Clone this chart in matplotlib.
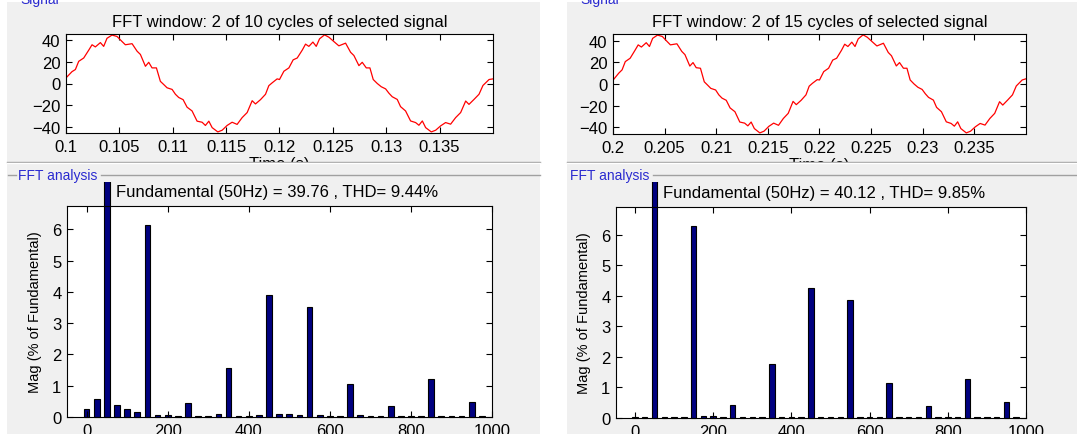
import matplotlib
matplotlib.use("Agg")
import matplotlib.pyplot as plt
import numpy as np
from matplotlib.patches import Rectangle
from matplotlib.lines import Line2D
from matplotlib.transforms import Bbox, TransformedBbox

plt.rcParams['font.family'] = ['Liberation Sans', 'DejaVu Sans']

# signal inside the FFT window: time offset (ms) and value
sig_ms = [0.0, 0.56, 0.88, 1.19, 1.66, 2.13, 2.44, 2.75, 3.22, 3.53, 3.84, 4.31, 4.78, 5.25,
          5.56, 6.19, 6.66, 6.97, 7.44, 7.75, 8.06, 8.47, 8.84, 9.16, 9.47, 9.94, 10.25, 10.56,
          10.97, 11.34, 11.81, 12.28, 12.75, 13.06, 13.38, 13.69, 14.22, 14.63, 15.09, 15.56,
          16.03, 16.5, 16.97, 17.44, 17.75, 18.22, 18.69, 19.0, 19.31, 19.78,
          20.0, 20.41, 20.88, 21.28, 21.66, 22.13, 22.44, 22.75, 23.13, 23.44, 23.75, 24.22,
          24.63, 25.09, 25.56, 26.19, 26.66, 26.97, 27.44, 27.75, 28.13, 28.47, 28.78, 29.16,
          29.53, 29.94, 30.25, 30.56, 31.03, 31.34, 31.81, 32.28, 32.75, 33.06, 33.38, 33.69,
          34.22, 34.63, 35.09, 35.56, 36.03, 36.5, 36.97, 37.44, 37.75, 38.22, 38.69, 39.06,
          39.31, 39.63, 40.0]
sig_left = [5.2, 11, 13, 20.6, 23.7, 31, 36, 34, 38, 34.5, 42, 45, 43.7, 39,
            36, 37, 30, 27, 16, 19.7, 14.5, 14.5, 2, -1, -4, -5.5, -10, -13,
            -15, -22, -25.5, -35, -36, -39, -35, -41, -45, -43.4, -39, -36,
            -38, -31.7, -27, -16, -19, -15, -10, -2, 0.6, 4.3,
            3.7, 11.4, 14.5, 22, 23.7, 31, 36.6, 34.5, 38.5, 34.5, 41.5, 45.2,
            43, 39, 35, 37.5, 29, 26, 16.6, 19.7, 14.5, 14.5, 3.7, 0,
            -3, -5, -9, -12.3, -14.8, -21.5, -25.5, -34.8, -36.3, -38.8, -34.8, -41,
            -45, -43.4, -39.4, -36.3, -37.8, -31.7, -27, -16.3, -19.4, -14.8, -10, -1.8,
            0.6, 3.7, 4.3]
sig_right = [3.5, 10, 13, 20.6, 23.7, 31, 36, 34, 38, 34.5, 42, 45, 43.7, 39,
             36, 37, 30, 27, 16.5, 19.7, 15, 14.5, 2, -1, -4, -5.5, -10, -13,
             -15, -22, -25.5, -35, -36, -38.5, -35, -41, -45, -43.4, -39, -36,
             -38, -31.7, -27, -16, -19, -15, -10, -2, 0.6, 4,
             3.7, 11.4, 14.5, 22, 23.7, 31, 36.6, 34.5, 38.5, 34.5, 41.5, 45.2,
             43, 39, 35, 37.5, 29, 26, 16.6, 19.7, 14.5, 14.5, 3.7, 0,
             -3, -5, -9, -12.3, -14.8, -21.5, -25.5, -34.8, -36.3, -38.8, -34.8, -41,
             -45, -43.4, -39.4, -36.3, -37.8, -31.7, -27, -16.3, -19.4, -14.8, -10, -1.8,
             0.6, 3.7, 4.8]
win_start = [0.1, 0.2]
cycles_total = [10, 15]

# spectrum, 25 Hz bins, % of fundamental (50 Hz bin = fundamental)
freqs = list(range(0, 1000, 25))
mag_left = [0.24, 0.56, 100, 0.37, 0.24, 0.16, 6.13, 0.06,
            0.06, 0.04, 0.46, 0.03, 0.03, 0.08, 1.57, 0.03,
            0.03, 0.06, 3.89, 0.08, 0.08, 0.06, 3.53, 0.06,
            0.04, 0.03, 1.07, 0.06, 0.03, 0.03, 0.35, 0.03,
            0.03, 0.03, 1.20, 0.03, 0.03, 0.03, 0.48, 0.03]
mag_right = [0.02, 0.02, 100, 0.02, 0.02, 0.02, 6.28, 0.05,
             0.06, 0.02, 0.43, 0.02, 0.02, 0.02, 1.77, 0.02,
             0.02, 0.02, 4.26, 0.02, 0.02, 0.02, 3.85, 0.02,
             0.02, 0.02, 1.14, 0.02, 0.02, 0.02, 0.40, 0.02,
             0.02, 0.02, 1.28, 0.02, 0.02, 0.02, 0.54, 0.02]
fund = [39.76, 40.12]
thd = [9.44, 9.85]

W, H = 1077, 435
fig = plt.figure(figsize=(W/100, H/100), dpi=100, facecolor='white')

def fx(px):
    return px / W

def fy(py):
    return 1 - py / H

grey = '#f0f0f0'
frame = '#a0a0a0'
blue = '#2a2ad0'

# panels: (left px, right px, top axes box, bottom axes box, label x)
panels = [
    (7, 540, (66, 35, 493, 134), (67, 207, 492, 418), 18),
    (567, 1077, (613, 35, 1026, 135), (616, 208, 1026, 419), 570),
]
sigs = [sig_left, sig_right]
mags = [mag_left, mag_right]

for i, (pl, pr, tbox, bbox, lab_x) in enumerate(panels):
    # background
    fig.add_artist(Rectangle((fx(pl), 0), fx(pr) - fx(pl), fy(3), transform=fig.transFigure,
                             facecolor=grey, edgecolor='none', zorder=-5))
    fig.text(fx(pl + 13), fy(0), 'Signal', color=blue, fontsize=10, va='center', ha='left')

    # signal plot
    ax = fig.add_axes([fx(tbox[0]), fy(tbox[3]), fx(tbox[2]) - fx(tbox[0]), fy(tbox[1]) - fy(tbox[3])])
    ax.set_zorder(0)
    t = win_start[i] + np.array(sig_ms) / 1000.0
    ax.plot(t, sigs[i], color='#ff0000', lw=0.9)
    ax.set_xlim(win_start[i], win_start[i] + 0.04)
    ax.set_ylim(-46, 46)
    xt = [win_start[i] + 0.005 * k for k in range(8)]
    ax.set_xticks(xt)
    ax.set_xticklabels(['%g' % round(v, 3) for v in xt])
    ax.set_yticks([-40, -20, 0, 20, 40])
    ax.tick_params(direction='in', top=True, right=True, length=4, labelsize=12, pad=4)
    ax.set_title('FFT window: 2 of %d cycles of selected signal' % cycles_total[i], fontsize=12, pad=6)
    ax.set_xlabel('Time (s)', fontsize=12, labelpad=2)

    # lower panel covers the cut xlabel
    fig.add_artist(Rectangle((fx(pl), 0), fx(pr) - fx(pl), fy(163), transform=fig.transFigure,
                             facecolor=grey, edgecolor='none', zorder=1))
    fig.add_artist(Line2D([fx(pl), fx(pr)], [fy(163), fy(163)], transform=fig.transFigure,
                          color=frame, lw=1, zorder=1.5))
    fig.add_artist(Line2D([fx(pl), fx(pr)], [fy(164), fy(164)], transform=fig.transFigure,
                          color='white', lw=1, zorder=1.5))
    fig.add_artist(Line2D([fx(pl + 1), fx(lab_x - 2)], [fy(176), fy(176)], transform=fig.transFigure,
                          color=frame, lw=1, zorder=1.5))
    fig.add_artist(Line2D([fx(lab_x + 83), fx(pr)], [fy(176), fy(176)], transform=fig.transFigure,
                          color=frame, lw=1, zorder=1.5))
    fig.text(fx(lab_x), fy(176), 'FFT analysis', color=blue, fontsize=10, va='center', ha='left', zorder=2)

    # spectrum
    bx = fig.add_axes([fx(bbox[0]), fy(bbox[3]), fx(bbox[2]) - fx(bbox[0]), fy(bbox[1]) - fy(bbox[3])])
    bx.set_zorder(2)
    bars = bx.bar(freqs, mags[i], width=14, color='#000080', edgecolor='black', linewidth=0.8)
    clip = TransformedBbox(Bbox([[0, 0], [1, fy(183)]]), fig.transFigure)
    for b in bars:
        b.set_clip_box(clip)
    harm = [m for f, m in zip(freqs, mags[i]) if f != 50]
    bx.set_xlim(-48.5, 1000)
    bx.set_ylim(0, 1.1 * max(harm))
    bx.set_xticks([0, 200, 400, 600, 800, 1000])
    bx.set_yticks([0, 1, 2, 3, 4, 5, 6])
    bx.tick_params(direction='in', top=True, right=True, length=4, labelsize=12, pad=4)
    bx.set_ylabel('Mag (% of Fundamental)', fontsize=10.5, labelpad=7)
    bx.annotate('Fundamental (50Hz) = %.2f , THD= %.2f%%' % (fund[i], thd[i]),
                xy=(0.115, 1.0), xycoords='axes fraction', xytext=(0, 7),
                textcoords='offset points', fontsize=12, ha='left', va='baseline',
                annotation_clip=False)

fig.savefig('out.png', dpi=100, facecolor='white')
